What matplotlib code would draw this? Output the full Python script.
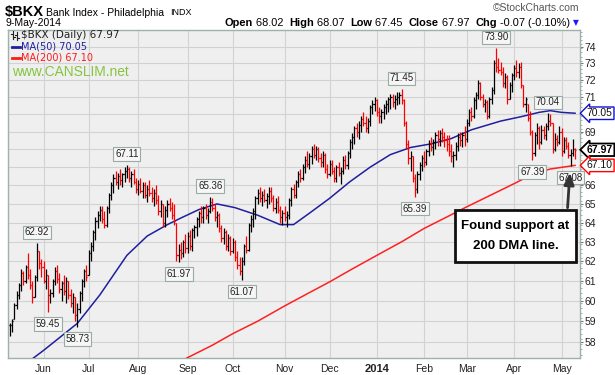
import numpy as np
import pandas as pd
import matplotlib
matplotlib.use("Agg")
import matplotlib.pyplot as plt
from matplotlib.collections import LineCollection
from matplotlib.ticker import FixedLocator, NullFormatter, FixedFormatter
from matplotlib.patches import Rectangle
from matplotlib.lines import Line2D

plt.rcParams['font.family'] = ['Liberation Sans', 'DejaVu Sans']

# ---------------- data ----------------
holidays = ["2013-05-27", "2013-07-04", "2013-09-02", "2013-11-28", "2013-12-25",
            "2014-01-01", "2014-01-20", "2014-02-17", "2014-04-18"]
dates = pd.bdate_range("2013-05-10", "2014-05-09")
dates = dates[~dates.isin(pd.to_datetime(holidays))]

highs = np.array([
    58.9, 59.1, 59.9, 60.5, 60.9, 61.6, 61.5, 61.8, 62.4, 61.6,
    61.0, 61.3, 62.92, 62.5, 62.1, 62.0, 61.6, 61.3, 60.6, 61.1,
    61.7, 61.8, 61.4, 61.0, 61.3, 61.2, 61.0, 60.6, 60.4, 60.2,
    59.9, 60.5, 61.1, 61.6, 61.8, 62.6, 63.0, 63.6, 64.3, 64.6,
    64.9, 64.9, 64.6, 64.9, 65.6, 66.2, 66.6, 66.8, 66.7, 66.9,
    66.7, 67.0, 67.11, 67.0, 66.8, 66.9, 66.4, 66.3, 66.4, 66.2,
    66.2, 66.0, 66.3, 65.9, 65.8, 66.0, 65.5, 65.2, 65.0, 64.9,
    65.2, 65.3, 65.1, 65.0, 64.0, 62.9, 63.0, 63.1, 63.4, 63.5,
    63.6, 63.7, 63.9, 64.3, 64.6, 64.9, 64.9, 65.0, 64.8, 65.36,
    65.3, 65.0, 64.6, 64.5, 63.9, 63.7, 63.6, 63.4, 63.3, 63.2,
    63.1, 62.5, 62.2, 62.2, 62.9, 63.3, 64.0, 64.4, 64.8, 65.4,
    65.8, 65.9, 65.7, 65.8, 65.6, 65.9, 65.9, 65.5, 65.3, 65.4,
    64.9, 64.7, 64.9, 64.6, 65.3, 65.9, 66.1, 66.3, 66.8, 66.9,
    67.2, 67.6, 67.9, 67.8, 68.2, 68.3, 68.2, 68.1, 67.8, 67.9,
    67.8, 67.2, 67.4, 67.4, 67.0, 67.1, 67.3, 67.0, 67.6, 67.7,
    67.9, 68.6, 68.9, 69.3, 69.5, 69.6, 69.9, 70.1, 69.9, 69.8,
    70.5, 70.8, 71.0, 70.9, 70.4, 70.3, 70.6, 70.8, 71.0, 71.2,
    71.2, 71.1, 71.3, 71.3, 71.45, 70.9, 69.6, 68.5, 67.9, 67.6,
    66.6, 66.8, 67.3, 67.7, 67.9, 68.0, 68.5, 68.7, 68.6, 69.0,
    69.1, 69.1, 69.2, 69.0, 68.8, 68.8, 68.3, 67.9, 68.4, 68.9,
    69.0, 69.0, 69.3, 69.7, 70.3, 70.4, 71.0, 71.3, 72.0, 71.9,
    71.2, 70.9, 70.8, 71.0, 71.6, 73.2, 73.90, 73.3, 73.1, 72.8,
    72.4, 72.3, 71.9, 72.4, 72.9, 73.2, 73.0, 73.1, 71.7, 71.0,
    70.6, 70.2, 69.1, 69.0, 69.5, 69.3, 69.4, 69.3, 69.5, 70.04,
    70.0, 69.5, 68.9, 68.8, 69.3, 69.2, 68.7, 68.7, 68.4, 68.0, 68.6, 68.07])

lows = np.array([
    58.3, 58.5, 59.1, 59.6, 60.1, 60.5, 60.8, 60.9, 61.1, 60.6,
    59.9, 60.2, 61.0, 61.6, 61.2, 60.9, 60.6, 59.45, 59.9, 60.2,
    60.8, 60.9, 60.4, 60.0, 60.3, 59.9, 60.1, 59.7, 59.4, 59.0,
    58.73, 59.4, 60.0, 60.7, 61.0, 61.3, 62.0, 62.5, 63.1, 63.7,
    64.1, 64.0, 63.7, 63.8, 64.5, 65.2, 65.6, 66.0, 65.8, 66.0,
    65.9, 66.2, 66.4, 66.2, 65.9, 66.1, 65.6, 65.5, 65.6, 65.3,
    65.3, 65.1, 65.4, 65.1, 64.9, 65.0, 64.4, 64.3, 63.8, 63.8,
    64.3, 64.6, 64.2, 63.9, 62.0, 61.97, 62.1, 62.2, 62.4, 62.4,
    62.6, 62.5, 63.2, 63.3, 63.8, 64.0, 64.0, 64.2, 64.0, 64.5,
    64.6, 64.1, 63.8, 63.5, 63.0, 62.9, 62.6, 62.5, 62.3, 62.4,
    62.0, 61.6, 61.3, 61.07, 61.8, 62.4, 62.5, 63.5, 63.8, 64.2,
    65.0, 65.1, 64.9, 65.1, 64.8, 65.0, 65.1, 64.6, 64.5, 64.5,
    64.0, 63.9, 64.1, 63.8, 64.2, 64.9, 65.3, 65.3, 65.9, 66.2,
    66.3, 66.7, 67.0, 66.9, 67.2, 67.5, 67.4, 67.3, 67.0, 67.0,
    66.7, 66.4, 66.5, 66.6, 66.2, 66.2, 66.5, 66.1, 66.6, 66.9,
    66.9, 67.5, 68.0, 68.3, 68.7, 68.6, 69.0, 69.3, 69.0, 68.9,
    69.3, 70.0, 70.2, 69.9, 69.5, 69.5, 69.7, 70.0, 70.1, 70.3,
    70.4, 70.3, 70.5, 70.6, 70.6, 69.3, 68.0, 67.2, 66.8, 66.2,
    65.39, 65.6, 66.3, 66.8, 67.0, 67.1, 67.6, 67.9, 67.7, 68.0,
    68.2, 68.2, 68.4, 68.1, 67.9, 67.6, 67.3, 67.0, 67.4, 67.9,
    68.2, 68.1, 68.2, 68.4, 69.3, 69.6, 69.8, 70.3, 70.9, 70.8,
    70.4, 70.1, 69.7, 69.8, 70.6, 71.2, 72.5, 72.4, 72.3, 71.6,
    71.5, 70.6, 70.9, 71.3, 72.0, 72.2, 72.1, 71.5, 70.4, 70.1,
    69.6, 68.8, 67.39, 67.6, 68.3, 68.0, 68.3, 68.6, 68.5, 69.1,
    69.3, 67.8, 67.9, 68.2, 68.3, 67.6, 67.8, 68.0, 67.5, 67.08, 67.6, 67.45])

closes = np.array([
    58.8, 59.0, 59.8, 60.3, 60.8, 61.4, 61.0, 61.7, 61.3, 60.8,
    60.2, 61.2, 62.5, 61.9, 61.7, 61.0, 61.3, 60.3, 60.4, 61.0,
    61.5, 61.1, 60.6, 60.9, 60.5, 61.0, 60.3, 59.9, 60.2, 59.3,
    59.6, 60.4, 61.0, 61.5, 61.2, 62.4, 62.8, 63.5, 64.1, 64.4,
    64.7, 64.2, 63.9, 64.8, 65.5, 66.0, 66.4, 66.2, 66.5, 66.3,
    66.6, 66.8, 66.9, 66.4, 66.6, 66.2, 65.8, 66.1, 65.7, 66.0,
    65.5, 65.8, 65.6, 65.3, 65.6, 65.2, 64.6, 65.0, 64.0, 64.7,
    65.0, 64.8, 64.4, 64.1, 62.3, 62.6, 62.4, 63.0, 62.7, 63.3,
    62.8, 63.6, 63.8, 64.2, 64.5, 64.3, 64.8, 64.4, 64.6, 65.1,
    64.8, 64.3, 64.4, 63.7, 63.2, 63.5, 62.8, 63.2, 62.5, 63.0,
    62.2, 61.8, 61.5, 62.0, 62.8, 62.6, 63.9, 64.2, 64.6, 65.3,
    65.6, 65.3, 65.5, 65.2, 65.4, 65.7, 65.3, 64.8, 65.1, 64.7,
    64.3, 64.5, 64.3, 64.4, 65.2, 65.8, 65.5, 66.2, 66.6, 66.4,
    67.0, 67.4, 67.2, 67.6, 68.0, 67.7, 68.0, 67.5, 67.3, 67.7,
    66.9, 66.6, 67.2, 66.8, 66.4, 67.0, 66.7, 66.8, 67.4, 67.1,
    67.8, 68.4, 68.7, 69.2, 69.0, 69.4, 69.7, 69.5, 69.2, 69.6,
    70.4, 70.6, 70.8, 70.1, 69.9, 70.1, 70.4, 70.6, 70.9, 71.0,
    70.7, 70.9, 71.0, 71.1, 70.8, 69.5, 68.3, 67.5, 67.6, 66.4,
    65.8, 66.6, 67.1, 67.5, 67.3, 67.9, 68.3, 68.1, 68.4, 68.8,
    68.6, 68.9, 68.7, 68.5, 68.3, 67.9, 67.6, 67.7, 68.2, 68.7,
    68.5, 68.8, 68.6, 69.5, 70.1, 69.9, 70.8, 71.1, 71.8, 71.0,
    70.6, 70.7, 69.9, 70.9, 71.4, 73.0, 72.8, 72.6, 72.5, 71.8,
    72.2, 70.9, 71.7, 72.3, 72.7, 72.5, 72.8, 71.7, 70.6, 70.9,
    69.8, 69.0, 67.8, 68.8, 69.2, 68.4, 69.1, 68.8, 69.3, 69.6,
    69.5, 68.0, 68.6, 68.4, 69.0, 67.9, 68.5, 68.2, 67.7, 67.8, 68.04, 67.97])
last_open = 68.02

# moving averages (bar number, value)
ma50_bar = [10, 15, 30, 40, 52, 61, 70, 76, 84, 92, 100, 110, 120, 126, 133, 142,
            151, 160, 169, 178, 187, 196, 205, 218, 227, 235, 240, 245, 251]
ma50_val = [57.20, 57.6, 58.9, 60.3, 62.3, 63.3, 63.9, 64.25, 64.7, 65.0, 64.8, 64.4,
            63.9, 63.9, 64.5, 65.3, 66.2, 67.0, 67.7, 68.1, 68.3, 68.6, 69.1, 69.6,
            69.85, 70.1, 70.2, 70.1, 70.05]
ma200_bar = [77, 79, 90, 99, 110, 122, 132, 142, 152, 163, 174, 184, 194, 203, 214,
             224, 232, 240, 251]
ma200_val = [57.15, 57.26, 57.85, 58.4, 59.0, 59.75, 60.35, 60.95, 61.6, 62.3, 63.0,
             63.7, 64.3, 64.85, 65.5, 66.1, 66.6, 66.9, 67.10]

high_label_bars = [12, 52, 89, 174, 216, 239]
low_label_bars = [17, 30, 75, 103, 180, 232, 249]

yticks = list(range(58, 75))
hidden_yticks = [67, 68, 70]   # covered by the value flags on the right
month_labels = ["Jun", "Jul", "Aug", "Sep", "Oct", "Nov", "Dec", "2014",
                "Feb", "Mar", "Apr", "May"]

# ---------------- figure ----------------
W, H = 615, 375
fig = plt.figure(figsize=(W / 100, H / 100), dpi=100)
fig.patch.set_facecolor("white")


def fx(x):
    return x / W


def fy(y):
    return 1 - y / H


L, R, T, B = 8, 580, 30, 358
ax = fig.add_axes([fx(L), fy(B), (R - L) / W, (B - T) / H])
ax.set_facecolor("#efefef")

n = len(closes)
prev = np.r_[closes[0], closes[:-1]]
opens = np.clip(prev, lows, highs)
opens[-1] = last_open
down = closes < prev
cols = np.where(down, "#ff0000", "#000000")

segs, scol = [], []
tk = 0.5
for i in range(n):
    segs.append([(i, lows[i]), (i, highs[i])])
    segs.append([(i - tk, opens[i]), (i, opens[i])])
    segs.append([(i, closes[i]), (i + tk, closes[i])])
    scol += [cols[i]] * 3
ax.add_collection(LineCollection(segs, colors=scol, linewidths=0.9, zorder=4))

ax.plot(ma50_bar, ma50_val, color="#1f1f9e", lw=1.1, zorder=3)
ax.plot(ma200_bar, ma200_val, color="#ff2020", lw=1.1, zorder=3)

ax.set_yscale("log")
ax.set_ylim(57.24, 75.03)
ax.set_xlim(-0.8, 253.2)

ax.yaxis.set_major_locator(FixedLocator(yticks))
ax.yaxis.set_major_formatter(FixedFormatter(
    ["" if v in hidden_yticks else str(v) for v in yticks]))
ax.yaxis.set_minor_locator(FixedLocator(list(np.arange(57.4, 75.0, 0.25))))
ax.yaxis.set_minor_formatter(NullFormatter())
ax.yaxis.tick_right()
ax.tick_params(axis="y", which="major", direction="out", length=2.5, width=0.8,
               color="#777777", labelsize=7.5, pad=1, labelcolor="#222222")
ax.tick_params(axis="y", which="minor", direction="out", length=1.2, width=0.6,
               color="#999999")

month_bars = []
for m in range(12):
    yr, mo = (2013, 6 + m) if m < 7 else (2014, m - 6)
    sel = np.where((dates.year == yr) & (dates.month == mo))[0]
    month_bars.append(int(sel[0]))
ax.set_xticks(month_bars)
ax.set_xticklabels(month_labels)
ax.tick_params(axis="x", length=0, labelsize=7.5, pad=4, labelcolor="#222222")
for t in ax.get_xticklabels():
    if t.get_text() == "2014":
        t.set_fontweight("bold")
        t.set_fontsize(8)

ax.grid(True, which="major", color="#d2d2d2", lw=0.8, zorder=0)
ax.set_axisbelow(True)
for s in ax.spines.values():
    s.set_color("#9db3aa")
    s.set_linewidth(1)

# price labels
lbl_box = dict(boxstyle="square,pad=0.18", fc="#f6f6f6", ec="#9aaba3", lw=0.8)
for b in high_label_bars:
    ax.annotate(f"{highs[b]:.2f}", xy=(b, highs[b]), xytext=(0, 6),
                textcoords="offset pixels", ha="center", va="bottom", fontsize=7,
                color="#222222", bbox=lbl_box, zorder=6, annotation_clip=False)
for b in low_label_bars:
    ax.annotate(f"{lows[b]:.2f}", xy=(b, lows[b]), xytext=(0, -7),
                textcoords="offset pixels", ha="center", va="top", fontsize=7,
                color="#222222", bbox=lbl_box, zorder=6, annotation_clip=False)

# right side value boxes
ytr = ax.get_yaxis_transform()
ax.text(1.012, ma50_val[-1], f"{ma50_val[-1]:.2f}", transform=ytr, ha="left", va="center",
        fontsize=7.5, color="#111111", clip_on=False, zorder=10,
        bbox=dict(boxstyle="larrow,pad=0.12", fc="white", ec="#1010d0", lw=1))
ax.text(1.012, closes[-1], f"{closes[-1]:.2f}", transform=ytr, ha="left", va="center",
        fontsize=7.5, fontweight="bold", color="#000000", clip_on=False, zorder=10,
        bbox=dict(boxstyle="larrow,pad=0.12", fc="white", ec="#000000", lw=1.3))
ax.text(1.012, ma200_val[-1], f"{ma200_val[-1]:.2f}", transform=ytr, ha="left", va="center",
        fontsize=7.5, color="#111111", clip_on=False, zorder=10,
        bbox=dict(boxstyle="larrow,pad=0.12", fc="white", ec="#ff0000", lw=1))

# callout box and arrow
fig.add_artist(Rectangle((fx(455), fy(262)), (576 - 455) / W, (262 - 210) / H,
                         transform=fig.transFigure, fc="white", ec="#111111", lw=2, zorder=20))
fig.text(fx(515.5), fy(226), "Found support at", ha="center", va="center", fontsize=9.5,
         fontweight="bold", zorder=21)
fig.text(fx(515.5), fy(246), "200 DMA line.", ha="center", va="center", fontsize=9.5,
         fontweight="bold", zorder=21)
ax.annotate("", xy=(248.8, 66.85), xytext=(247.6, 64.65),
            arrowprops=dict(arrowstyle="-|>,head_length=0.7,head_width=0.3",
                            color="#333333", lw=2), annotation_clip=False, zorder=22)

# header
fig.text(fx(5), fy(12), "$BKX", fontsize=10.5, fontweight="bold", va="center", ha="left")
fig.text(fx(46), fy(12.5), "Bank Index - Philadelphia", fontsize=7.5, va="center", ha="left")
fig.text(fx(170), fy(12.5), "INDX", fontsize=6.5, va="center", ha="left")
fig.text(fx(6), fy(23), "9-May-2014", fontsize=7.5, va="center", ha="left")
fig.text(fx(579), fy(8), "\u00a9StockCharts.com", fontsize=7.5, va="center", ha="right",
         color="#555555")

renderer = fig.canvas.get_renderer()
pieces = [("Open", "bold"), (" 68.02  ", "normal"), ("High", "bold"), (" 68.07  ", "normal"),
          ("Low", "bold"), (" 67.45  ", "normal"), ("Close", "bold"), (" 67.97  ", "normal"),
          ("Chg", "bold"), (" -0.07 (-0.10%)", "normal")]
txts = []
for s, w in pieces:
    txts.append(fig.text(0, fy(23), s, fontsize=7.9, fontweight=w, va="center", ha="left"))
widths = [t.get_window_extent(renderer).width for t in txts]
x = 570 - sum(widths)
for t, wd in zip(txts, widths):
    t.set_x(fx(x))
    x += wd
fig.text(fx(576), fy(23), "\u25bc", fontsize=5.5, color="#1a1aff", va="center", ha="center",
         family="DejaVu Sans")

# in-chart legend
for xx, y1, y2 in [(13, 31, 39), (17, 32, 40)]:
    fig.add_artist(Line2D([fx(xx), fx(xx)], [fy(y1), fy(y2)], color="#222222", lw=0.8))
fig.add_artist(Line2D([fx(11), fx(13)], [fy(34), fy(34)], color="#222222", lw=0.8))
fig.add_artist(Line2D([fx(13), fx(15)], [fy(37), fy(37)], color="#222222", lw=0.8))
fig.add_artist(Line2D([fx(15), fx(17)], [fy(35), fy(35)], color="#222222", lw=0.8))
fig.add_artist(Line2D([fx(17), fx(19)], [fy(38), fy(38)], color="#222222", lw=0.8))
fig.text(fx(21), fy(35), f"$BKX (Daily) {closes[-1]:.2f}", fontsize=7.5, va="center",
         ha="left", family="DejaVu Sans", color="#222222")
fig.add_artist(Line2D([fx(12), fx(20)], [fy(46.5), fy(46.5)], color="#1f1f9e", lw=2))
fig.text(fx(21), fy(46.5), f"MA(50) {ma50_val[-1]:.2f}", fontsize=7, va="center", ha="left",
         family="DejaVu Sans", color="#1f1f9e")
fig.add_artist(Line2D([fx(12), fx(20)], [fy(57.5), fy(57.5)], color="#ff1a1a", lw=2))
fig.text(fx(21), fy(57.5), f"MA(200) {ma200_val[-1]:.2f}", fontsize=7, va="center", ha="left",
         family="DejaVu Sans", color="#ff1a1a")
fig.text(fx(12), fy(72), "www.CANSLIM.net", fontsize=9.9, va="center", ha="left",
         color="#86c440")

fig.savefig("out.png", dpi=100)
